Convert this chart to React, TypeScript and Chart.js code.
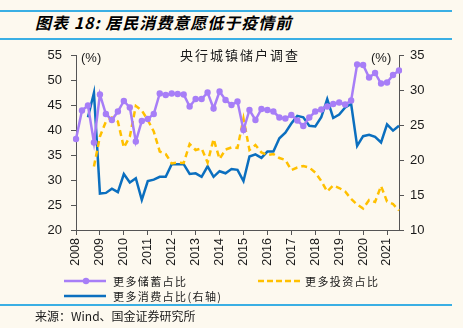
import React, { useEffect, useRef } from 'react';
import { Chart, registerables } from 'chart.js';

Chart.register(...registerables);

const W = 463;
const H = 328;
const BG = '#FDF9EF';
const AX = '#555555';
const TXT = '#1a1a1a';
const RULE = '#3AAFE4';
const PURPLE = '#A77EF7';
const YELLOW = '#FFC000';
const BLUE = '#0B6FBF';
const FONT = '"Liberation Sans", Arial, sans-serif';
const CJK = '"Noto Sans CJK SC", "Liberation Sans", sans-serif';

const yearLabels = ['2008', '2009', '2010', '2011', '2012', '2013', '2014', '2015', '2016', '2017', '2018', '2019', '2020', '2021'];
const quarterNames = ['Q1', 'Q2', 'Q3', 'Q4'];
// 2008Q1 .. 2021Q3
const quarters: string[] = [];
yearLabels.forEach((y) => quarterNames.forEach((q) => quarters.push(y + q)));
const categories = quarters.slice(0, 55);

// 更多储蓄占比 (left axis, %)
const savings = [
  38.2, 43.9, 44.9, 37.5, 47.1, 43.2, 42.0, 43.7, 45.8, 44.5,
  37.7, 41.8, 42.2, 43.2, 47.3, 47.0, 47.3, 47.2, 47.1, 44.7,
  46.2, 46.2, 47.5, 44.3, 47.7, 46.0, 45.0, 45.7, 40.0, 44.0,
  42.0, 44.2, 44.0, 43.7, 42.5, 42.3, 43.0, 41.9, 40.8, 42.5,
  43.7, 44.1, 44.7, 45.2, 45.5, 45.1, 45.9, 53.1, 53.0, 50.5,
  51.4, 49.3, 49.5, 51.0, 51.9,
];

// 更多投资占比 (left axis, %)
const investment = [
  null, null, null, 32.7, 38.7, 41.7, 42.5, 41.7, 36.5, 38.7,
  44.8, 43.9, 42.0, 39.7, 35.7, 35.2, 33.3, 33.5, 33.4, 37.2,
  36.0, 36.3, 33.5, 38.2, 34.2, 36.1, 36.5, 36.4, 42.3, 36.0,
  37.0, 35.5, 35.0, 35.2, 34.4, 34.0, 32.0, 32.5, 32.8, 32.5,
  31.5, 29.8, 27.7, 28.9, 28.4, 27.7, 26.2, 25.1, 24.3, 26.0,
  25.6, 28.8, 25.7, 25.2, 23.9,
];

// 更多消费占比 (right axis, %)
const consumption = [
  null, null, 26.1, 29.6, 15.2, 15.3, 15.9, 15.4, 18.0, 16.8,
  17.4, 14.3, 17.0, 17.2, 17.6, 17.6, 19.4, 19.4, 19.4, 18.0,
  18.1, 17.6, 19.1, 17.6, 18.4, 18.1, 18.7, 18.6, 17.0, 20.5,
  20.8, 20.3, 21.2, 21.2, 23.1, 23.9, 25.2, 26.3, 26.1, 24.9,
  24.8, 26.1, 28.7, 26.0, 26.5, 27.5, 28.0, 22.0, 23.4, 23.6,
  23.3, 22.5, 25.1, 24.2, 24.9,
];

const seriesNames = ['更多储蓄占比', '更多投资占比', '更多消费占比(右轴)'];

function abs(left: number, top: number, extra: React.CSSProperties = {}): React.CSSProperties {
  return { position: 'absolute', left, top, whiteSpace: 'nowrap', ...extra };
}

export default function App() {
  const ref = useRef<HTMLCanvasElement>(null);

  useEffect(() => {
    const canvas = ref.current;
    if (!canvas) return;
    const chart = new Chart(canvas, {
      type: 'line',
      data: {
        labels: categories,
        datasets: [
          {
            label: seriesNames[0],
            data: savings,
            yAxisID: 'y',
            borderColor: PURPLE,
            backgroundColor: PURPLE,
            borderWidth: 2.5,
            pointRadius: 3.2,
            pointBorderWidth: 0,
            pointHoverRadius: 0,
            tension: 0,
          },
          {
            label: seriesNames[1],
            data: investment,
            yAxisID: 'y',
            borderColor: YELLOW,
            borderWidth: 2.5,
            borderDash: [6, 4],
            pointRadius: 0,
            tension: 0,
          },
          {
            label: seriesNames[2],
            data: consumption,
            yAxisID: 'y1',
            borderColor: BLUE,
            borderWidth: 2.5,
            pointRadius: 0,
            tension: 0,
          },
        ],
      },
      options: {
        animation: false,
        responsive: false,
        devicePixelRatio: 1,
        events: [],
        layout: { padding: { top: 55, left: 0, right: 0, bottom: 0 } },
        plugins: {
          legend: { display: false },
          tooltip: { enabled: false },
          title: { display: false },
        },
        scales: {
          x: {
            type: 'category',
            offset: false,
            grid: {
              display: true,
              drawOnChartArea: false,
              drawTicks: true,
              tickLength: 5,
              color: (c: any) => (c.index % 4 === 0 ? AX : 'rgba(0,0,0,0)'),
            },
            border: { display: true, color: AX, width: 1 },
            ticks: {
              autoSkip: false,
              maxRotation: 90,
              minRotation: 90,
              padding: 3,
              color: TXT,
              font: { family: FONT, size: 12.5 },
              callback: (_v: any, i: number) => (i % 4 === 0 ? yearLabels[i / 4] : ''),
            },
            afterFit: (s: any) => {
              s.height = 98;
            },
          },
          y: {
            position: 'left',
            min: 20,
            max: 55,
            grid: { drawOnChartArea: false, drawTicks: true, tickLength: 5, color: AX },
            border: { display: true, color: AX, width: 1 },
            ticks: {
              stepSize: 5,
              padding: 9,
              color: TXT,
              font: { family: FONT, size: 13 },
            },
            afterFit: (s: any) => {
              s.width = 76;
            },
          },
          y1: {
            position: 'right',
            min: 10,
            max: 35,
            grid: { drawOnChartArea: false, drawTicks: true, tickLength: 5, color: AX },
            border: { display: true, color: AX, width: 1 },
            ticks: {
              stepSize: 5,
              padding: 6,
              color: TXT,
              font: { family: FONT, size: 13 },
            },
            afterFit: (s: any) => {
              s.width = 64;
            },
          },
        },
      },
    } as any);
    return () => chart.destroy();
  }, []);

  const legendText: React.CSSProperties = {
    fontFamily: CJK,
    fontSize: 11,
    letterSpacing: 1.4,
    color: TXT,
    lineHeight: '14px',
    height: 14,
  };

  return (
    <div
      style={{
        position: 'fixed',
        left: 0,
        top: 0,
        width: W,
        height: H,
        background: BG,
        overflow: 'hidden',
      }}
    >
      {/* header rules */}
      <div style={abs(0, 10, { width: 452, height: 2, background: RULE })} />
      <div style={abs(0, 38, { width: 452, height: 2, background: RULE })} />
      <div
        style={abs(35, 12, {
          fontFamily: CJK,
          fontSize: 16,
          fontWeight: 'bold',
          fontStyle: 'italic',
          letterSpacing: 1,
          lineHeight: '20px',
          color: '#000',
        })}
      >
        图表 18: 居民消费意愿低于疫情前
      </div>

      <canvas ref={ref} width={W} height={H} style={{ position: 'absolute', left: 0, top: 0, width: W, height: H }} />

      {/* in-chart labels */}
      <div style={abs(180, 47, { fontFamily: CJK, fontSize: 13, letterSpacing: 2, lineHeight: '16px', color: TXT })}>
        央行城镇储户调查
      </div>
      <div style={abs(81, 50, { fontFamily: FONT, fontSize: 13, lineHeight: '16px', color: TXT })}>(%)</div>
      <div style={abs(371, 50, { fontFamily: FONT, fontSize: 13, lineHeight: '16px', color: TXT })}>(%)</div>

      {/* legend */}
      <svg style={abs(0, 270, { width: 463, height: 34 })} width={463} height={34}>
        <line x1={64} y1={11} x2={106} y2={11} stroke={PURPLE} strokeWidth={2.5} />
        <circle cx={86} cy={11} r={3.2} fill={PURPLE} />
        <line x1={258} y1={11} x2={300} y2={11} stroke={YELLOW} strokeWidth={2.5} strokeDasharray="6 3" />
        <line x1={64} y1={26} x2={106} y2={26} stroke={BLUE} strokeWidth={2.5} />
      </svg>
      <div style={abs(113, 274, legendText)}>{seriesNames[0]}</div>
      <div style={abs(305, 274, legendText)}>{seriesNames[1]}</div>
      <div style={abs(113, 289, legendText)}>{seriesNames[2]}</div>

      {/* footer */}
      <div style={abs(0, 304, { width: 452, height: 2, background: RULE })} />
      <div style={abs(35, 308, { fontFamily: CJK, fontSize: 12, lineHeight: '16px', color: TXT })}>
        来源：Wind、国金证券研究所
      </div>
    </div>
  );
}
